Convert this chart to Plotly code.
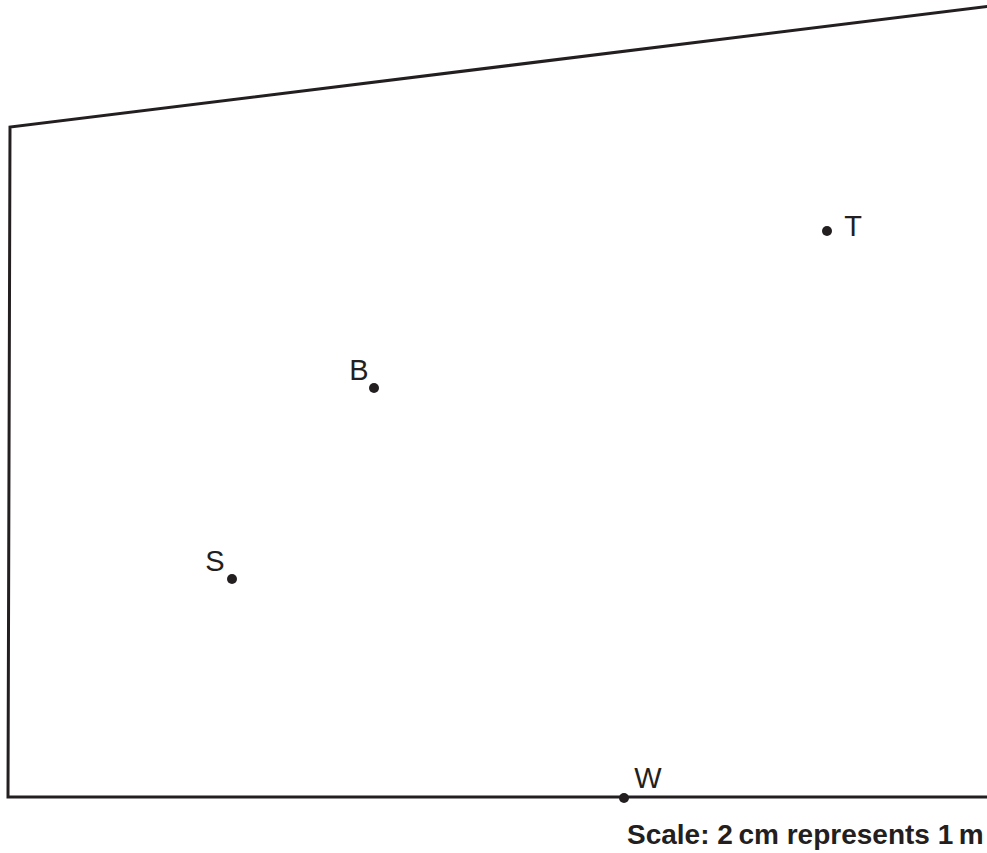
import plotly.graph_objects as go

# Boundary of the plan (pixel-like drawing units)
boundary_x = [1000, 10, 8, 1000]
boundary_y = [5, 127, 797, 797]

# Named points
point_names = ["T", "B", "S", "W"]
point_x = [827, 374, 232, 624]
point_y = [231, 388, 579, 798]
label_x = [853, 359, 215, 648]
label_y = [229, 373, 564, 781]

scale_text = "Scale: 2\u2009cm represents 1\u2009m"

ink = "#231f20"

fig = go.Figure()
fig.add_trace(go.Scatter(x=boundary_x, y=boundary_y, mode="lines",
                         line=dict(color=ink, width=3), hoverinfo="skip"))
fig.add_trace(go.Scatter(x=point_x, y=point_y, mode="markers",
                         marker=dict(color=ink, size=10), hoverinfo="skip"))
fig.add_trace(go.Scatter(x=label_x, y=label_y, mode="text", text=point_names,
                         textposition="middle center",
                         textfont=dict(family="Liberation Sans, Arial", size=29, color=ink),
                         hoverinfo="skip"))

fig.add_annotation(x=986, y=834, text="<b>" + scale_text + "</b>", showarrow=False,
                   xanchor="right", yanchor="middle",
                   font=dict(family="Liberation Sans, Arial", size=28, color=ink))

fig.update_layout(width=987, height=853, margin=dict(l=0, r=0, t=0, b=0),
                  paper_bgcolor="white", plot_bgcolor="white", showlegend=False,
                  xaxis=dict(range=[0, 987], visible=False, fixedrange=True),
                  yaxis=dict(range=[853, 0], visible=False, fixedrange=True))

fig.write_html("out.html", config={"displayModeBar": False},
               post_script="document.body.style.margin='0';document.body.style.overflow='hidden';")
